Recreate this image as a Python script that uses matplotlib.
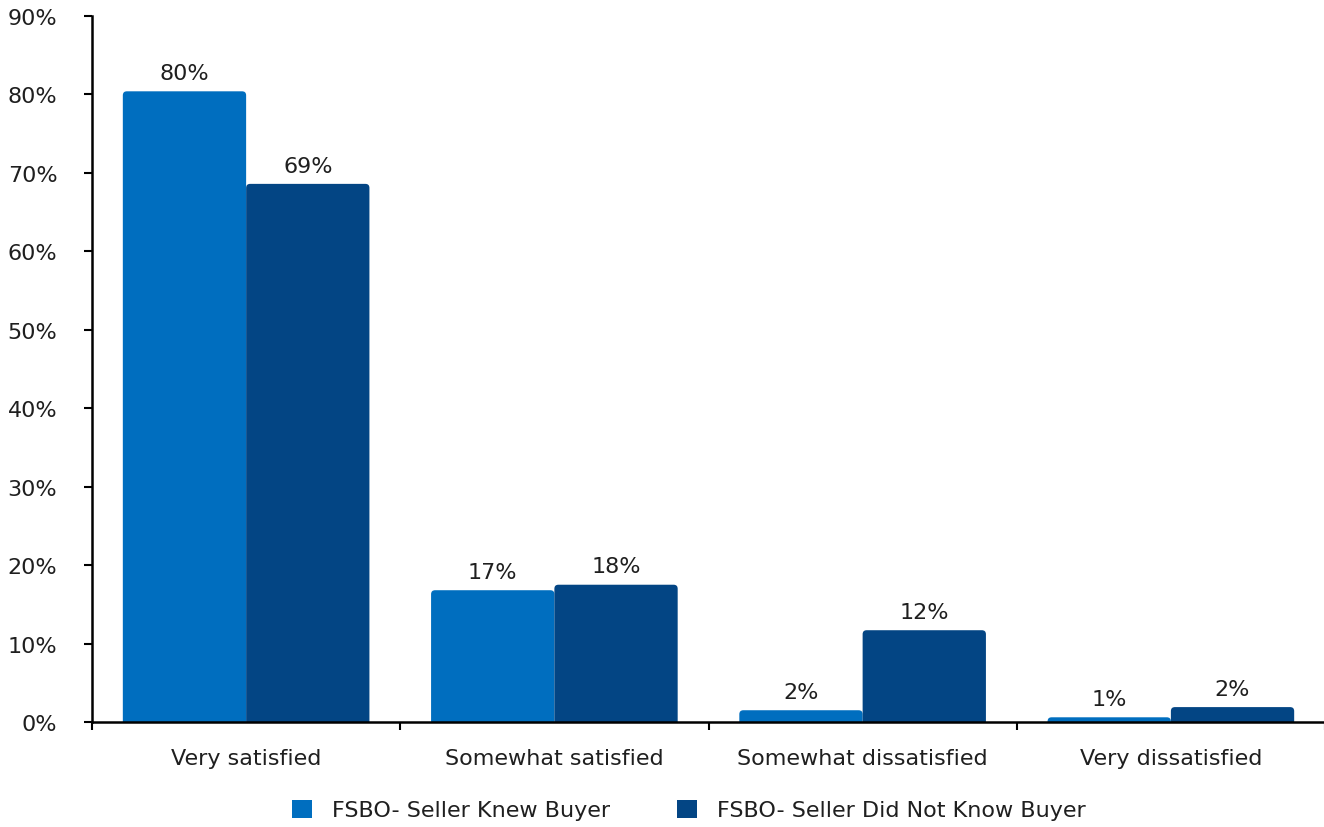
import matplotlib
matplotlib.use("Agg")
import matplotlib.pyplot as plt
import numpy as np
from matplotlib.ticker import MultipleLocator, FuncFormatter
from matplotlib.patches import FancyBboxPatch, Patch

categories = ["Very satisfied", "Somewhat satisfied", "Somewhat dissatisfied", "Very dissatisfied"]
series_names = ["FSBO- Seller Knew Buyer", "FSBO- Seller Did Not Know Buyer"]
knew = [80.4, 16.8, 1.5, 0.6]
not_knew = [68.6, 17.5, 11.7, 1.9]
colors = ["#006EBF", "#034584"]

plt.rcParams['font.family'] = ['DejaVu Sans']
text_color = "#1f1f1f"
fs = 16

fig = plt.figure(figsize=(13.24, 8.28), dpi=100)
ax = fig.add_axes([92/1324, 105/828, 1233/1324, 706/828])
ax.set_xlim(-0.5, 3.5)
ax.set_ylim(0, 90)

x = np.arange(len(categories))
w = 0.4
# rounding radius of the top corners (about 4 px) in data units
rx = 4 / 308
ry = 4 / (706 / 90)
for i, vals in enumerate([knew, not_knew]):
    pos = x - w/2 + i*w
    bars = ax.bar(pos, vals, width=w, color=colors[i], linewidth=0)
    for b in bars:
        bx, by, bw, bh = b.get_x(), b.get_y(), b.get_width(), b.get_height()
        b.set_visible(False)
        patch = FancyBboxPatch((bx, by - ry), bw, bh + ry,
                               boxstyle=f"round,pad=0,rounding_size={rx}",
                               mutation_aspect=ry / rx,
                               facecolor=colors[i], edgecolor='none', clip_on=True)
        ax.add_patch(patch)
        patch.set_clip_path(ax.patch)
    for p, v in zip(pos, vals):
        ax.annotate(f"{round(v)}%", (p, v), xytext=(0, 6), textcoords="offset points",
                    ha="center", va="bottom", fontsize=fs, color=text_color)

ax.yaxis.set_major_locator(MultipleLocator(10))
ax.yaxis.set_major_formatter(FuncFormatter(lambda v, _: f"{int(v)}%"))
ax.set_xticks(x)
ax.set_xticklabels(categories)
ax.set_xticks(np.arange(-0.5, 3.6, 1), minor=True)
ax.tick_params(axis='x', which='major', length=0, pad=19, labelsize=fs, labelcolor=text_color)
ax.tick_params(axis='x', which='minor', length=6, width=1.5, direction='out')
ax.tick_params(axis='y', length=6, width=1.5, labelsize=fs, labelcolor=text_color, pad=19)

for s in ['top', 'right']:
    ax.spines[s].set_visible(False)
ax.spines['left'].set_linewidth(1.8)
ax.spines['bottom'].set_linewidth(1.8)

handles = [Patch(facecolor=c, edgecolor='none') for c in colors]
fig.legend(handles, series_names, loc='center', bbox_to_anchor=(0.52, 1 - 811/828), ncol=2,
           frameon=False, fontsize=fs, handlelength=0.9, handleheight=0.9,
           columnspacing=3.0, handletextpad=0.9, labelcolor=text_color)

fig.savefig("out.png", dpi=100)
